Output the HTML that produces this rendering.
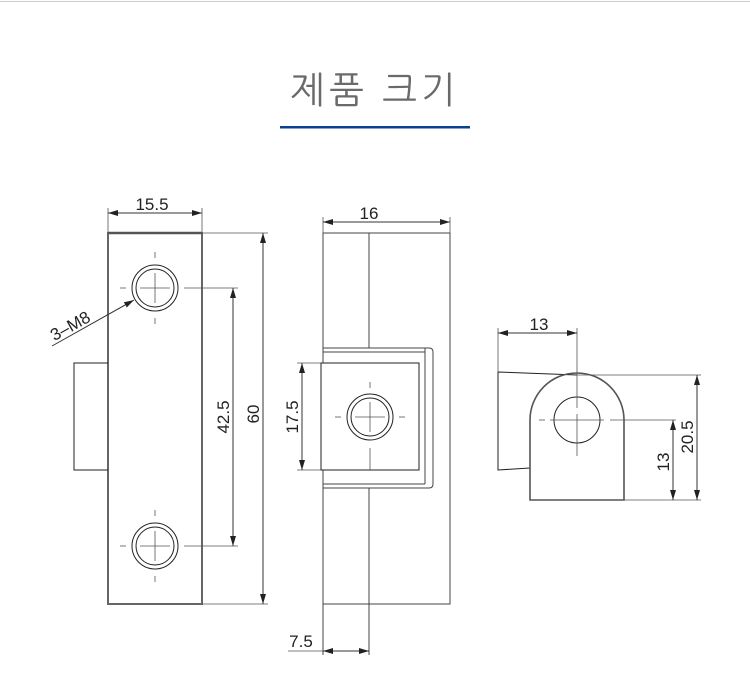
<!DOCTYPE html>
<html><head><meta charset="utf-8"><style>
html,body{margin:0;padding:0;background:#fff;width:750px;height:696px;overflow:hidden}
</style></head><body>
<svg width="750" height="696" viewBox="0 0 750 696" xmlns="http://www.w3.org/2000/svg" font-family="Liberation Sans, sans-serif">
<defs>
<marker id="a" viewBox="0 0 10 6" refX="10" refY="3" markerWidth="10" markerHeight="6" orient="auto-start-reverse" markerUnits="userSpaceOnUse"><path d="M0,0 L10,3 L0,6 Z" fill="#222"/></marker>
</defs>
<line x1="0" y1="1.5" x2="750" y2="1.5" stroke="#ccc" stroke-width="1"/>
<text x="375" y="103" text-anchor="middle" font-family="Liberation Sans, NanumGothic, Noto Sans CJK KR, sans-serif" font-size="37" font-weight="300" fill="#6a6a6a" letter-spacing="4">제품 크기</text>
<rect x="280" y="126" width="190" height="2.5" fill="#0b3f90"/>

<g fill="none" stroke="#333" stroke-width="1">
<rect x="108" y="233" width="94" height="371" stroke="#666" stroke-width="2"/>
<line x1="108" y1="233" x2="202" y2="233" stroke="#555" stroke-width="2.5"/>
<polyline points="108,363 74,363 74,470 108,470" stroke="#222"/>
<circle cx="155" cy="288" r="23" stroke="#222"/><circle cx="155" cy="288" r="19" stroke="#222"/>
<circle cx="155" cy="546" r="23" stroke="#222"/><circle cx="155" cy="546" r="19" stroke="#222"/>
<g stroke="#555" stroke-width="0.8">
<line x1="140" y1="288" x2="170" y2="288"/><line x1="155" y1="273" x2="155" y2="303"/>
<line x1="120" y1="288" x2="126" y2="288"/><line x1="155" y1="252" x2="155" y2="258"/><line x1="155" y1="318" x2="155" y2="324"/>
<line x1="140" y1="546" x2="170" y2="546"/><line x1="155" y1="531" x2="155" y2="561"/>
<line x1="120" y1="546" x2="126" y2="546"/><line x1="155" y1="510" x2="155" y2="516"/><line x1="155" y1="576" x2="155" y2="582"/>
<line x1="184" y1="288" x2="238" y2="288"/><line x1="184" y1="546" x2="238" y2="546"/>
<line x1="202" y1="233" x2="268" y2="233"/><line x1="202" y1="604" x2="268" y2="604"/>
<line x1="108" y1="208" x2="108" y2="233"/><line x1="202" y1="208" x2="202" y2="233"/>
</g>
<line x1="108" y1="213" x2="202" y2="213" marker-start="url(#a)" marker-end="url(#a)"/>
<line x1="233" y1="288" x2="233" y2="546" marker-start="url(#a)" marker-end="url(#a)"/>
<line x1="263" y1="233" x2="263" y2="604" marker-start="url(#a)" marker-end="url(#a)"/>
<line x1="52" y1="346" x2="134" y2="300" marker-end="url(#a)"/>

<g stroke="#444">
<rect x="323" y="233" width="127" height="371"/>
<line x1="369" y1="233" x2="369" y2="348"/>
<line x1="369" y1="488" x2="369" y2="655"/>
<path d="M323,348 H429 Q433,348 433,352 V484 Q433,488 429,488 H323"/>
<line x1="323" y1="352" x2="425" y2="352"/>
<line x1="425" y1="348" x2="425" y2="484"/>
<line x1="323" y1="484" x2="425" y2="484"/>
<rect x="321" y="363" width="98" height="107" fill="#fff" stroke="#222"/>
<line x1="323" y1="604" x2="323" y2="655"/>
</g>
<circle cx="370" cy="417" r="23" stroke="#222"/><circle cx="370" cy="417" r="19" stroke="#222"/>
<g stroke="#555" stroke-width="0.8">
<line x1="355" y1="417" x2="385" y2="417"/><line x1="370" y1="402" x2="370" y2="432"/>
<line x1="335" y1="417" x2="341" y2="417"/><line x1="399" y1="417" x2="405" y2="417"/>
<line x1="370" y1="382" x2="370" y2="388"/><line x1="370" y1="448" x2="370" y2="470"/>
<line x1="297" y1="363" x2="321" y2="363"/><line x1="297" y1="470" x2="321" y2="470"/>
<line x1="323" y1="217" x2="323" y2="233"/><line x1="450" y1="217" x2="450" y2="233"/>
<line x1="288" y1="651" x2="323" y2="651"/>
</g>
<line x1="302" y1="363" x2="302" y2="470" marker-start="url(#a)" marker-end="url(#a)"/>
<line x1="323" y1="222" x2="450" y2="222" marker-start="url(#a)" marker-end="url(#a)"/>
<line x1="323" y1="651" x2="369" y2="651" marker-start="url(#a)" marker-end="url(#a)"/>

<path d="M498,372 L577,375 M498,372 V470 L530,468" stroke="#222"/>
<path d="M530,500 V420 A47,47 0 0 1 624,420 V500 Z" stroke="#555" stroke-width="1.6"/>
<circle cx="577" cy="420" r="23" stroke="#222"/>
<g stroke="#555" stroke-width="0.8">
<line x1="539" y1="420" x2="545" y2="420"/><line x1="550" y1="420" x2="604" y2="420"/>
<line x1="577" y1="328" x2="577" y2="408"/><line x1="577" y1="414" x2="577" y2="456"/>
<line x1="498" y1="328" x2="498" y2="372"/>
<line x1="610" y1="420" x2="676" y2="420"/>
<line x1="577" y1="375" x2="701" y2="375"/><line x1="624" y1="500" x2="701" y2="500"/>
</g>
<line x1="498" y1="333" x2="577" y2="333" marker-start="url(#a)" marker-end="url(#a)"/>
<line x1="673" y1="420" x2="673" y2="500" marker-start="url(#a)" marker-end="url(#a)"/>
<line x1="697" y1="375" x2="697" y2="500" marker-start="url(#a)" marker-end="url(#a)"/>
</g>

<g font-size="17" fill="#222">
<text x="152" y="210" text-anchor="middle">15.5</text>
<text x="369" y="219" text-anchor="middle">16</text>
<text x="539" y="330" text-anchor="middle">13</text>
<text x="301" y="647" text-anchor="middle">7.5</text>
<text transform="translate(229,417) rotate(-90)" text-anchor="middle">42.5</text>
<text transform="translate(259,414) rotate(-90)" text-anchor="middle">60</text>
<text transform="translate(298,417) rotate(-90)" text-anchor="middle">17.5</text>
<text transform="translate(669,462) rotate(-90)" text-anchor="middle">13</text>
<text transform="translate(693,437) rotate(-90)" text-anchor="middle">20.5</text>
<text transform="translate(73,331) rotate(-29)" text-anchor="middle">3–M8</text>
</g>
</svg>
</body></html>
